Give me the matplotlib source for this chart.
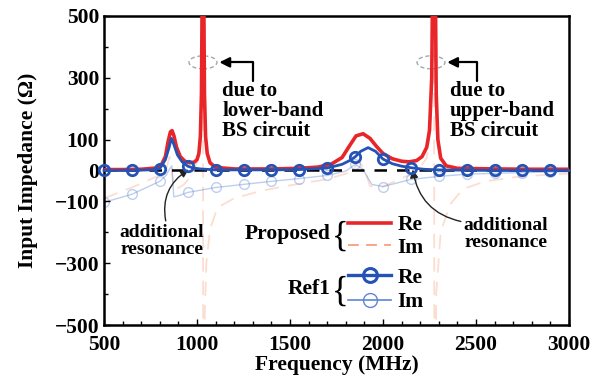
import numpy as np
import matplotlib.pyplot as plt
from matplotlib.lines import Line2D
from matplotlib.patches import Ellipse

plt.rcParams['font.family'] = ['Liberation Serif', 'DejaVu Serif']
plt.rcParams['font.weight'] = 'bold'

# Proposed, real part
prop_re_f = [500, 600, 700, 780, 810, 830, 845, 857, 866, 876, 890, 910, 935, 960, 985,
             1000, 1010, 1018, 1024, 1028, 1032, 1036, 1040, 1046, 1055, 1070, 1100, 1200,
             1400, 1550, 1650, 1720, 1780, 1820, 1855, 1893, 1930, 1965, 2000, 2050, 2100,
             2140, 2180, 2210, 2235, 2250, 2262, 2270, 2274, 2279, 2286, 2295, 2310, 2340,
             2400, 2600, 2800, 3000]
prop_re_v = [3, 3, 4, 8, 20, 45, 95, 125, 129, 112, 75, 45, 30, 25, 27,
             35, 55, 110, 250, 600, 1500, 600, 250, 110, 55, 25, 10, 5,
             5, 7, 11, 20, 42, 80, 112, 119, 104, 78, 55, 38, 30,
             28, 32, 45, 75, 130, 300, 800, 1500, 800, 250, 100, 40, 15,
             7, 5, 4, 4]

# Proposed, imaginary part
prop_im_f = [500, 650, 800, 835, 852, 862, 872, 890, 930, 980, 1005, 1020, 1028, 1031,
             1034, 1040, 1050, 1070, 1110, 1200, 1350, 1500, 1700, 1830, 1870, 1900, 1930,
             1990, 2100, 2180, 2235, 2258, 2270, 2273, 2277, 2286, 2310, 2360, 2430, 2550,
             2700, 2850, 3000]
prop_im_v = [-90, -55, -15, 5, 45, 20, -45, -60, -45, -10, 40, 150, 500, 1500,
             -1500, -500, -300, -190, -120, -90, -65, -48, -28, -5, 30, 5, -50,
             -55, -25, -5, 40, 150, 700, 1500, -1500, -400, -200, -110, -60, -35,
             -22, -15, -10]

# Ref1, real part (markers every 150 MHz)
ref_re_f = [500, 650, 780, 800, 830, 850, 862, 875, 895, 920, 950, 980, 1020, 1100, 1250,
            1400, 1550, 1700, 1780, 1820, 1850, 1880, 1920, 1960, 2000, 2050, 2100, 2150,
            2220, 2300, 2450, 2600, 2750, 2900, 3000]
ref_re_v = [0, 0, 3, 6, 35, 75, 104, 85, 50, 28, 14, 8, 5, 2, 2,
            2, 3, 8, 20, 32, 44, 62, 74, 62, 37, 22, 14, 9,
            4, 2, 1, 0, 0, 0, 0]
ref_marker_f = [500, 650, 800, 950, 1100, 1250, 1400, 1550, 1700, 1850, 2000, 2150,
                2300, 2450, 2600, 2750, 2900]

# Ref1, imaginary part
ref_im_f = [500, 650, 800, 835, 852, 865, 875, 900, 950, 1100, 1250, 1400, 1550, 1700,
            1800, 1850, 1890, 1940, 2000, 2150, 2300, 2450, 2600, 2750, 2900, 3000]
ref_im_v = [-103, -77, -35, -15, 5, 15, -85, -82, -71, -55, -45, -35, -26, -16,
            -2, 20, 5, -45, -52, -29, -19, -12, -9, -7, -5, -4]

red = '#e8262a'
orange = '#f6a07c'
blue = '#2553b5'
lblue = '#5d86d6'

fig = plt.figure(figsize=(6.03, 3.89), dpi=100)
ax = fig.add_axes([0.1725, 0.1645, 0.7711, 0.7944])

ax.axhline(0, color='black', lw=1.8, ls=(0, (5, 4)), zorder=2)

ax.plot(prop_im_f, prop_im_v, color=orange, lw=1.3, ls=(0, (8, 5)), alpha=0.35, zorder=1)
ref_mark_idx = [ref_im_f.index(f) for f in ref_marker_f]
ax.plot(ref_im_f, ref_im_v, color=lblue, lw=1.0, alpha=0.4, marker='o', mfc='none',
        ms=7, mew=1.0, markevery=ref_mark_idx, zorder=1)
ax.plot(prop_re_f, prop_re_v, color=red, lw=2.6, zorder=3)
ref_re_idx = [ref_re_f.index(f) for f in ref_marker_f]
ax.plot(ref_re_f, ref_re_v, color=blue, lw=2.0, marker='o', mfc='none', ms=7.5, mew=2.0,
        markevery=ref_re_idx, zorder=4, clip_on=False)

ax.set_xlim(500, 3000)
ax.set_ylim(-500, 500)
ax.set_xticks([500, 1000, 1500, 2000, 2500, 3000])
ax.set_xticks(np.arange(500, 3001, 100), minor=True)
ax.set_yticks([-500, -300, -100, 0, 100, 300, 500])
ax.set_yticks(np.arange(-500, 501, 100), minor=True)
ax.tick_params(which='both', direction='in', top=False, right=False, labelsize=15.5,
               width=1.0)
ax.tick_params(which='major', length=4)
ax.tick_params(which='minor', length=3)
ax.tick_params(axis='x', pad=7)
for s in ax.spines.values():
    s.set_linewidth(1.8)
ax.set_xlabel('Frequency (MHz)', fontsize=15.5, fontweight='bold', labelpad=0)
ax.set_ylabel('Input Impedance (\u03a9)', fontsize=15.5, fontweight='bold', labelpad=12)

# dashed ellipses marking the spikes
for fc in (1032, 2258):
    ax.add_patch(Ellipse((fc, 350), 150, 42, fill=False, ec='#a0a8b0', lw=1.0,
                         ls=(0, (3, 2))))

# elbow arrows and labels
for fx, tip, txt in ((1300, 1120, 'due to\nlower-band\nBS circuit'),
                     (2505, 2345, 'due to\nupper-band\nBS circuit')):
    ax.annotate('', xy=(tip, 350), xytext=(fx, 290),
                arrowprops=dict(arrowstyle='-|>', color='black', lw=1.6,
                                connectionstyle='angle,angleA=90,angleB=0,rad=0',
                                mutation_scale=15, shrinkA=0, shrinkB=0))
    ax.text(tip + 15, 290, txt, fontsize=15, fontweight='bold', va='top', ha='left',
            linespacing=1.0)

ax.annotate('additional\nresonance', xy=(955, 3), xytext=(812, -228),
            fontsize=14, fontweight='bold', ha='center', va='center', linespacing=1.05,
            arrowprops=dict(arrowstyle='-|>', color='#222222', lw=1.0, mutation_scale=12,
                            shrinkA=0, shrinkB=0, relpos=(0.55, 1.0),
                            connectionstyle='arc3,rad=-0.35'))
ax.annotate('additional\nresonance', xy=(2160, 3), xytext=(2661, -206),
            fontsize=14, fontweight='bold', ha='center', va='center', linespacing=1.05,
            arrowprops=dict(arrowstyle='-|>', color='#222222', lw=1.0, mutation_scale=12,
                            shrinkA=0, shrinkB=0, relpos=(0.0, 0.85),
                            connectionstyle='arc3,rad=-0.35'))

# custom legend
h_re = Line2D([], [], color=red, lw=2.6)
h_im = Line2D([], [], color=orange, lw=1.3, ls=(0, (6, 4)))
g_re = Line2D([], [], color=blue, lw=2.4, marker='o', mfc='none', ms=10, mew=2.2)
g_im = Line2D([], [], color=lblue, lw=1.2, marker='o', mfc='none', ms=10, mew=1.0)
leg1 = ax.legend([h_re, h_im], ['Re', 'Im'], loc='upper left',
                 bbox_to_anchor=(0.525, 0.355), frameon=False, fontsize=15.5,
                 handlelength=2.0, handletextpad=0.3, labelspacing=0.12,
                 borderpad=0, borderaxespad=0)
ax.add_artist(leg1)
ax.legend([g_re, g_im], ['Re', 'Im'], loc='upper left', bbox_to_anchor=(0.525, 0.185),
          frameon=False, fontsize=15.5, handlelength=2.0, handletextpad=0.3,
          labelspacing=0.2, borderpad=0, borderaxespad=0)
ax.text(0.487, 0.295, 'Proposed', transform=ax.transAxes, fontsize=15.5,
        fontweight='bold', ha='right', va='center')
ax.text(0.49, 0.285, '{', transform=ax.transAxes, fontsize=25, fontweight='normal',
        ha='left', va='center')
ax.text(0.487, 0.115, 'Ref1', transform=ax.transAxes, fontsize=15.5,
        fontweight='bold', ha='right', va='center')
ax.text(0.49, 0.105, '{', transform=ax.transAxes, fontsize=25, fontweight='normal',
        ha='left', va='center')

fig.savefig('out.png', dpi=100)
